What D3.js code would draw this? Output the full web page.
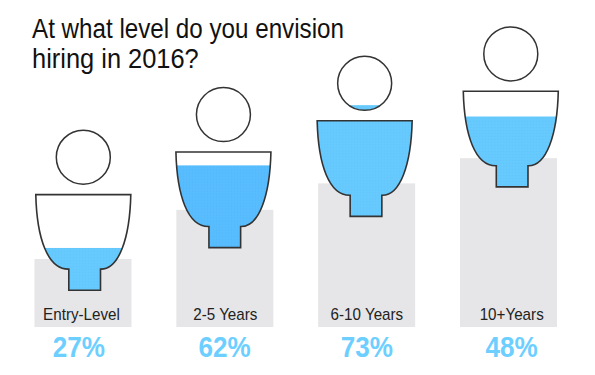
<!DOCTYPE html>
<html><head><meta charset="utf-8">
<script src="https://cdn.jsdelivr.net/npm/d3@7/dist/d3.min.js"></script>
<style>html,body{margin:0;padding:0;background:#fff}svg{display:block}text{font-family:"Liberation Sans",Arial,sans-serif}</style>
</head><body><div id="chart"></div>
<script>
// ---- data ----
const titleLines = ["At what level do you envision", "hiring in 2016?"];
const categories = ["Entry-Level", "2-5 Years", "6-10 Years", "10+Years"];
const percentages = [27, 62, 73, 48];
// pedestal height and figure lift, in units of the vertical scale
const pedestalHeights = [27, 46.5, 57, 67];
const figureLifts = [14.6, 31.5, 43.9, 55.6];
// how full each figure looks, percent of its own height
const fillLevels = [26.4, 51.4, 69.5, 44];

// ---- layout & style ----
const W = 595, H = 375, baseY = 327;
const titleSqueeze = [0.88, 0.925];
const figureNudge = [1.3, -0.4, -1, 3.3];
const labelNudge = [-1.5, 0.5, 0.2, 3.2];
const pctNudge = [-4.2, -0.2, 0.2, 3.2];
const fillColors = ["#66caff", "#58bdff", "#66caff", "#66caff"];
const ink = "#333";
const figW = 95, figH = 160, headR = 27, headCy = 27, bodyTop = 64.4;

const svg = d3.select("#chart").append("svg").attr("width", W).attr("height", H);
const defs = svg.append("defs");

const x = d3.scaleBand().domain(categories).range([34.5, 557]).paddingInner(0.316).paddingOuter(0);
const y = d3.scaleLinear().domain([0, 100]).range([baseY, baseY - 252]);
const fy = d3.scaleLinear().domain([0, 100]).range([figH, 0]);

function bodyPath() {
  const p = d3.path(), t = bodyTop, nl = 33, nr = 64.7, sh = t + 74.5, b = t + 95.6;
  p.moveTo(0, t);
  p.bezierCurveTo(1, t + 44, 12, t + 75, nl, sh);
  p.lineTo(nl, b); p.lineTo(nr, b); p.lineTo(nr, sh);
  p.bezierCurveTo(figW - 12, t + 75, figW - 1, t + 44, figW, t);
  p.closePath();
  return p.toString();
}
const body = bodyPath();

const clip = defs.append("clipPath").attr("id", "person");
clip.append("path").attr("d", body);
clip.append("circle").attr("cx", figW / 2).attr("cy", headCy).attr("r", headR);

categories.forEach((c, i) => {
  const pat = defs.append("pattern").attr("id", "dots" + i).attr("width", 3).attr("height", 3)
    .attr("patternUnits", "userSpaceOnUse");
  pat.append("rect").attr("width", 3).attr("height", 3).attr("fill", fillColors[i]);
  pat.append("rect").attr("x", 1).attr("y", 1).attr("width", 1).attr("height", 1)
    .attr("fill", d3.color(fillColors[i]).darker(0.12));
});

// title
svg.append("g").selectAll("text").data(titleLines).join("text")
  .attr("transform", (d, i) => `translate(32,${38 + i * 30}) scale(${titleSqueeze[i]},1)`)
  .attr("font-size", 27.5).attr("fill", "#111").text(d => d);

// pedestals
svg.append("g").selectAll("rect").data(categories).join("rect")
  .attr("x", d => x(d)).attr("width", x.bandwidth())
  .attr("y", (d, i) => y(pedestalHeights[i]))
  .attr("height", (d, i) => baseY - y(pedestalHeights[i]))
  .attr("fill", "#e6e6e8");

// figures
const figs = svg.append("g").selectAll("g").data(categories).join("g")
  .attr("transform", (d, i) => `translate(${x(d) + figureNudge[i]},${y(figureLifts[i]) - figH})`);
figs.append("g").attr("clip-path", "url(#person)").append("rect")
  .attr("x", -2).attr("width", figW + 4)
  .attr("y", (d, i) => fy(fillLevels[i]))
  .attr("height", (d, i) => figH - fy(fillLevels[i]))
  .attr("fill", (d, i) => `url(#dots${i})`);
figs.append("path").attr("d", body).attr("fill", "none").attr("stroke", ink).attr("stroke-width", 1.6).attr("stroke-linejoin", "miter");
figs.append("circle").attr("cx", figW / 2).attr("cy", headCy).attr("r", headR)
  .attr("fill", "none").attr("stroke", ink).attr("stroke-width", 1.5);

// category labels
svg.append("g").selectAll("text").data(categories).join("text")
  .attr("transform", (d, i) => `translate(${x(d) + x.bandwidth() / 2 + labelNudge[i]},320) scale(0.95,1)`)
  .attr("text-anchor", "middle").attr("font-size", 16).attr("fill", "#222").text(d => d);

// percentages
svg.append("g").selectAll("text").data(percentages).join("text")
  .attr("transform", (d, i) => `translate(${x(categories[i]) + x.bandwidth() / 2 + pctNudge[i]},356.5) scale(0.9,1)`)
  .attr("text-anchor", "middle").attr("font-size", 29).attr("font-weight", "bold").attr("fill", "#6dcfff")
  .text(d => d + "%");
</script></body></html>
